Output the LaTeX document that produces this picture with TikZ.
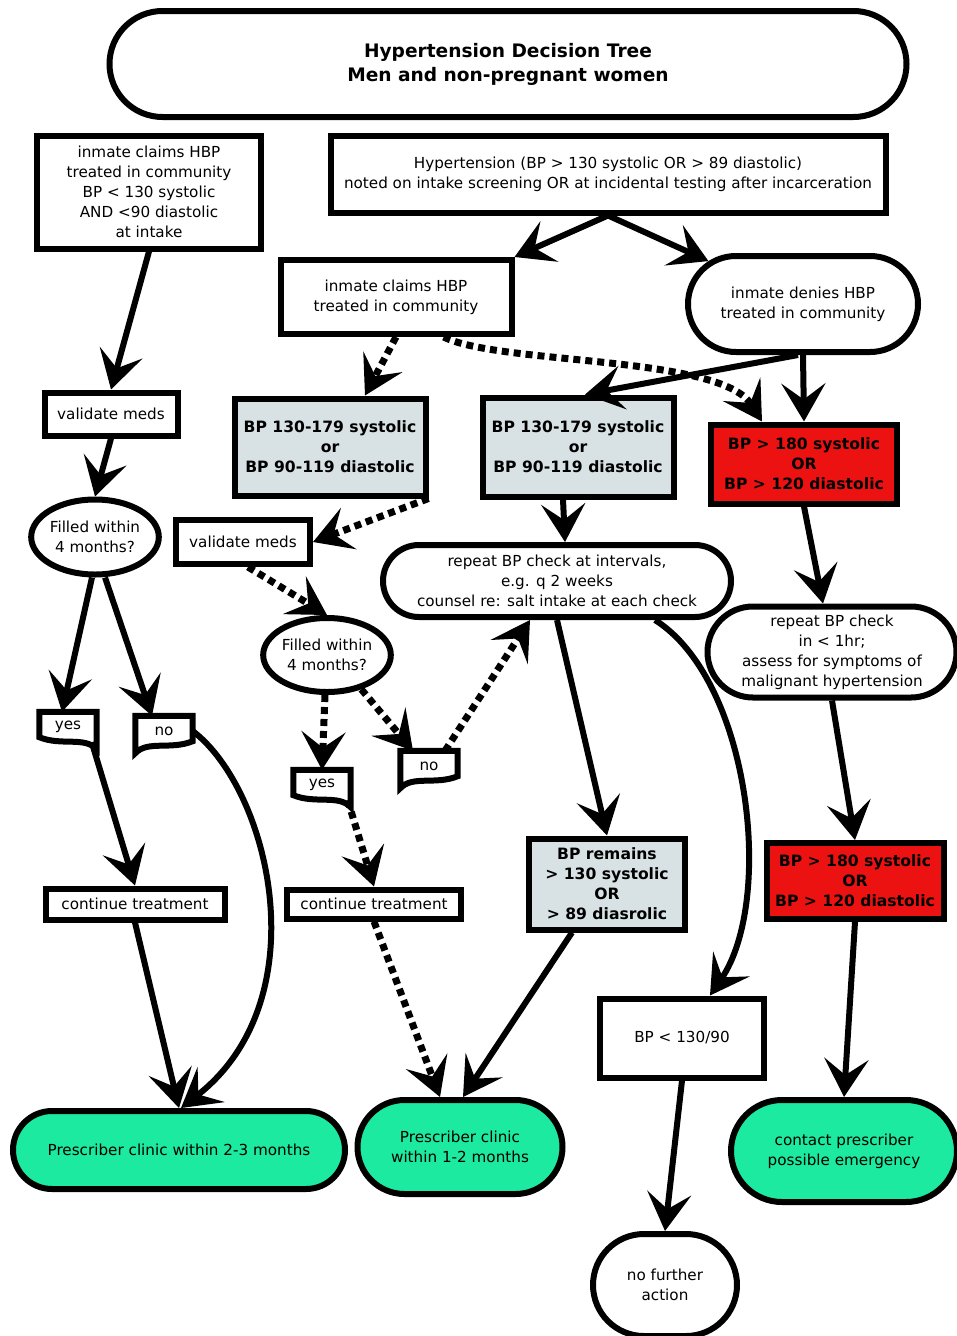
\documentclass[tikz,border=0pt]{standalone}
\usepackage{fontspec}
\setmainfont{DejaVu Sans}
\usepackage{tikz}
\usetikzlibrary{arrows.meta, calc, shapes.geometric, shapes.misc}

% flag-like answer boxes (wavy lower edge)
\newcommand{\yesflag}[1]{%
  \draw[line width=6pt, line join=miter] (#1.north west) -- (#1.north east)
    -- ($(#1.south east)+(0,7)$)
    .. controls ($(#1.south east)+(-12,-6)$) and ($(#1.south west)+(22,4)$) .. ($(#1.south west)+(0,-5)$) -- cycle;}
\newcommand{\noflag}[1]{%
  \draw[line width=6pt, line join=miter] (#1.north west) -- (#1.north east)
    -- ($(#1.south east)+(0,-5)$)
    .. controls ($(#1.south east)+(-22,4)$) and ($(#1.south west)+(12,-6)$) .. ($(#1.south west)+(0,7)$) -- cycle;}

\begin{document}
\begin{tikzpicture}[x=1pt, y=-1pt, line cap=butt, line join=miter,
  every node/.style={font=\fontsize{15.2}{20}\selectfont, align=center, inner sep=0pt},
  box/.style={draw, line width=6pt, rectangle},
  bpbox/.style={box, font=\fontsize{15.6}{20}\selectfont\bfseries},
  term/.style={draw, line width=6pt, rounded rectangle},
  oval/.style={draw, line width=6pt, ellipse},
  flag/.style={minimum width=57pt, minimum height=30pt},
  arr/.style={line width=6pt, -{Stealth[length=38pt, width=44pt, inset=16pt]}},
  dotarr/.style={arr, line width=7pt, dash pattern=on 7pt off 5pt}]

  % Colors
  \definecolor{midGrey}{RGB}{216,226,228}
  \definecolor{alarmRed}{RGB}{236,18,18}
  \definecolor{clinicGreen}{RGB}{28,234,160}

  \useasboundingbox (0,0) rectangle (957,1336);

  % Title
  \node[term, minimum width=797pt, minimum height=106pt,
        font=\fontsize{18.6}{24}\selectfont\bfseries] (title) at (508,64)
        {Hypertension Decision Tree\\Men and non-pregnant women};

  % Top row
  \node[box, minimum width=224pt, minimum height=113pt] (hist) at (149,192)
        {inmate claims HBP\\treated in community\\BP < 130 systolic\\AND <90 diastolic\\at intake};
  \node[box, minimum width=555pt, minimum height=77pt] (hyp) at (608,174)
        {Hypertension (BP > 130 systolic OR > 89 diastolic)\\noted on intake screening OR at incidental testing after incarceration};
  \node[box, minimum width=231pt, minimum height=74pt] (claims) at (396,297)
        {inmate claims HBP\\treated in community};
  \node[term, minimum width=230pt, minimum height=96pt] (denies) at (803,304)
        {inmate denies HBP\\treated in community};

  % Second row
  \node[box, minimum width=133pt, minimum height=43pt] (vmedsA) at (111,414) {validate meds};
  \node[bpbox, fill=midGrey, minimum width=191pt, minimum height=97pt] (midA) at (330,447)
        {BP 130-179 systolic\\or\\BP 90-119 diastolic};
  \node[bpbox, fill=midGrey, minimum width=191pt, minimum height=99pt] (midB) at (578,447)
        {BP 130-179 systolic\\or\\BP 90-119 diastolic};
  \node[bpbox, fill=alarmRed, minimum width=186pt, minimum height=79pt] (highA) at (804,464)
        {BP > 180 systolic\\OR\\BP > 120 diastolic};

  % Third row
  \node[oval, minimum width=119pt, minimum height=75pt] (fillA) at (95,537) {Filled within\\4 months?};
  \node[box, minimum width=134pt, minimum height=44pt] (vmedsB) at (243,542) {validate meds};
  \node[term, minimum width=348pt, minimum height=72pt] (repeat) at (557,581)
        {repeat BP check at intervals,\\e.g. q 2 weeks\\counsel re: salt intake at each check};
  \node[term, minimum width=249pt, minimum height=91pt] (recheck) at (832,652)
        {repeat BP check\\in < 1hr;\\assess for symptoms of\\malignant hypertension};
  \node[oval, minimum width=118pt, minimum height=74pt] (fillB) at (327,655) {Filled within\\4 months?};

  % Answers
  \node[flag] (yesA) at (68,727) {yes};
  \node[flag] (noA) at (164,731) {no};
  \node[flag] (yesB) at (322,785) {yes};
  \node[flag] (noB) at (429,766) {no};
  \yesflag{yesA}
  \noflag{noA}
  \yesflag{yesB}
  \noflag{noB}

  % Lower row
  \node[box, minimum width=179pt, minimum height=31pt] (contA) at (135,904) {continue treatment};
  \node[box, minimum width=174pt, minimum height=29pt] (contB) at (374,904) {continue treatment};
  \node[bpbox, fill=midGrey, minimum width=156pt, minimum height=91pt] (remains) at (607,884)
        {BP remains\\> 130 systolic\\OR\\> 89 diasrolic};
  \node[bpbox, fill=alarmRed, minimum width=177pt, minimum height=76pt] (highB) at (855,881)
        {BP > 180 systolic\\OR\\BP > 120 diastolic};
  \node[box, minimum width=164pt, minimum height=79pt] (low) at (682,1038) {BP < 130/90};

  % Outcomes
  \node[term, fill=clinicGreen, minimum width=332pt, minimum height=78pt] (clinicA) at (179,1150)
        {Prescriber clinic within 2-3 months};
  \node[term, fill=clinicGreen, minimum width=205pt, minimum height=94pt] (clinicB) at (460,1147)
        {Prescriber clinic\\within 1-2 months};
  \node[term, fill=clinicGreen, minimum width=226pt, minimum height=102pt] (contact) at (844,1151)
        {contact prescriber\\possible emergency};
  \node[term, minimum width=144pt, minimum height=102pt] (nofurther) at (665,1285)
        {no further\\action};

  % Connectors from the screening box
  \draw[arr] (hyp.south) -- (claims.north east);
  \draw[arr] (hyp.south) -- (denies);
  \draw[arr] (hist.south) -- (vmedsA.north);
  \draw[dotarr] (claims.south) -- ($(midA.north)+(35,0)$);
  \draw[dotarr] (claims.-40) .. controls (500,365) and (720,355) .. ($(highA.north)+(-42,0)$);
  \draw[arr] ($(denies.south)+(-5,0)$) -- ($(midB.north)+(7,0)$);
  \draw[arr] (denies.south) -- (highA.north);

  % Left branch
  \draw[arr] (vmedsA.south) -- (fillA.north);
  \draw[arr] ($(fillA.south)+(-3,0)$) -- ($(yesA.north)+(-6,0)$);
  \draw[arr] ($(fillA.south)+(10,0)$) -- ($(noA.north)+(-12,0)$);
  \draw[arr] ($(yesA.south east)+(-5,0)$) -- (contA.north);
  \draw[arr] (contA.south) -- (clinicA.north);
  \draw[arr] (noA.east) .. controls (270,790) and (320,1000) .. ($(clinicA.north)+(2,0)$);

  % Middle branch (dotted)
  \draw[dotarr] (midA.south east) -- (vmedsB.east);
  \draw[dotarr] ($(vmedsB.south)+(5,0)$) -- (fillB.north);
  \draw[dotarr] ($(fillB.south)+(-2,0)$) -- (yesB.north);
  \draw[dotarr] (fillB.-45) -- ($(noB.north)+(-16,0)$);
  \draw[dotarr] ($(noB.north)+(16,0)$) -- ($(repeat.south)+(-27,0)$);
  \draw[dotarr] ($(yesB.south east)+(-3,0)$) -- (contB.north);
  \draw[dotarr] (contB.south) -- ($(clinicB.north)+(-20,0)$);

  % Repeat checks
  \draw[arr] ($(midB.south)+(-15,0)$) -- ($(repeat.north)+(8,0)$);
  \draw[arr] (repeat.south) -- (remains.north);
  \draw[arr] ($(repeat.south)+(98,0)$) .. controls (750,680) and (775,900) .. ($(low.north)+(28,0)$);
  \draw[arr] ($(remains.south)+(-35,0)$) -- ($(clinicB.north)+(3,0)$);
  \draw[arr] (low.south) -- (nofurther.north);

  % Right branch
  \draw[arr] (highA.south) -- ($(recheck.north)+(-9,0)$);
  \draw[arr] (recheck.south) -- (highB.north);
  \draw[arr] (highB.south) -- (contact.north);

\end{tikzpicture}
\end{document}
